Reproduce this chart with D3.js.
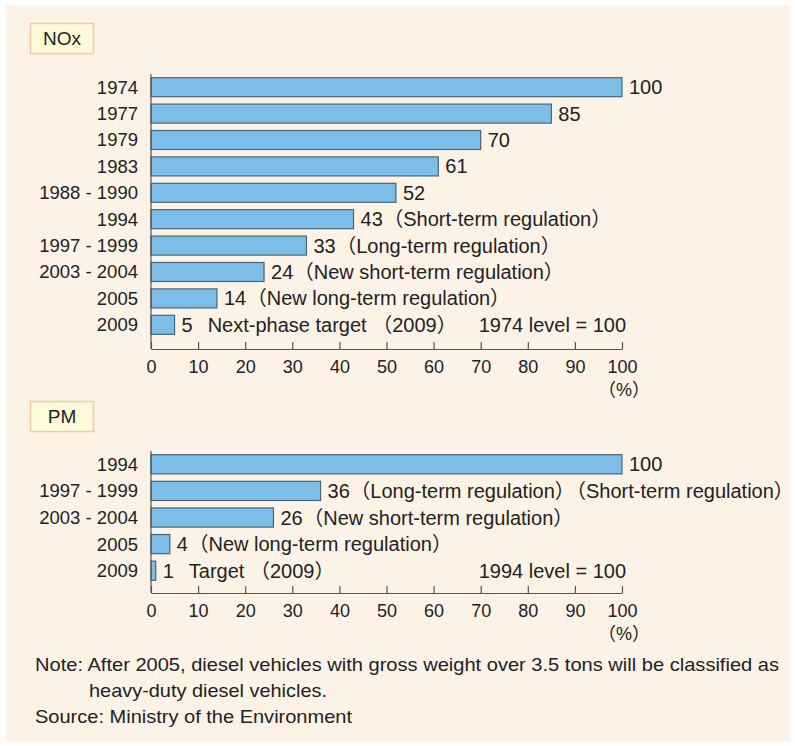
<!DOCTYPE html>
<html><head><meta charset="utf-8">
<script src="https://cdn.jsdelivr.net/npm/d3@7"></script>
<style>
html,body{margin:0;padding:0;background:#fff;}
svg text{font-family:"Liberation Sans",Arial,"Noto Sans CJK JP",sans-serif;fill:#222;}
</style></head><body>
<svg id="c" width="795" height="746"></svg>
<script>
const noxCats = ["1974","1977","1979","1983","1988 - 1990","1994","1997 - 1999","2003 - 2004","2005","2009"];
const noxVals = [100,85,70,61,52,43,33,24,14,5];
const noxNotes = ["","","","","","（Short-term regulation）","（Long-term regulation）","（New short-term regulation）","（New long-term regulation）","Next-phase target （2009）"];
const pmCats = ["1994","1997 - 1999","2003 - 2004","2005","2009"];
const pmVals = [100,36,26,4,1];
const pmNotes = ["","（Long-term regulation）","（New short-term regulation）","（New long-term regulation）","Target （2009）"];
const pmExtra = "（Short-term regulation）";
const ticks = [0,10,20,30,40,50,60,70,80,90,100];
const noxLevel = "1974 level = 100";
const pmLevel = "1994 level = 100";
const noteLines = ["Note: After 2005, diesel vehicles with gross weight over 3.5 tons will be classified as","heavy-duty diesel vehicles.","Source: Ministry of the Environment"];

const svg = d3.select("#c");
svg.append("rect").attr("x",6).attr("y",5).attr("width",784).attr("height",736).attr("fill","#fdf2e6");

const x = d3.scaleLinear().domain([0,100]).range([151,622]);
const FC = 18.5, FV = 20;

function panel(title, boxY, cats, vals, notes, y0, step, baseY, level){
  svg.append("rect").attr("x",30.5).attr("y",boxY+0.5).attr("width",63).attr("height",30)
    .attr("fill","#fffbd8").attr("stroke","#f4c8a8").attr("stroke-width",1.5);
  svg.append("text").attr("x",62).attr("y",boxY+22).attr("text-anchor","middle")
    .attr("font-size",19).text(title);
  const y = d3.scaleBand().domain(cats).range([y0, y0+cats.length*step]).paddingInner(0.28).paddingOuter(0.14);
  const g = svg.append("g");
  g.selectAll("rect.bar").data(cats).join("rect").attr("class","bar")
    .attr("x",x(0)).attr("y",d=>y(d)).attr("width",(d,i)=>x(vals[i])-x(0)).attr("height",y.bandwidth())
    .attr("fill","#7dbee9").attr("stroke","#4b6477").attr("stroke-width",1.2);
  g.selectAll("text.cat").data(cats).join("text").attr("class","cat")
    .attr("x",138).attr("y",d=>y(d)+y.bandwidth()/2).attr("dy","0.35em")
    .attr("text-anchor","end").attr("font-size",FC).text(d=>d);
  const vt = g.selectAll("text.val").data(cats).join("text").attr("class","val")
    .attr("x",(d,i)=>x(vals[i])+7).attr("y",d=>y(d)+y.bandwidth()/2).attr("dy","0.35em")
    .attr("font-size",FV).text((d,i)=>vals[i]);
  const ends = vt.nodes().map(n=>+n.getAttribute("x")+n.getComputedTextLength());
  g.selectAll("text.note").data(cats).join("text").attr("class","note")
    .attr("x",(d,i)=>ends[i]+(notes[i].startsWith("（")?0.5:15))
    .attr("y",d=>y(d)+y.bandwidth()/2).attr("dy","0.35em")
    .attr("font-size",FV).text((d,i)=>notes[i]);
  const ax = d3.axisBottom(x).tickValues(ticks).tickSizeInner(-7).tickSizeOuter(0).tickPadding(8);
  const ag = svg.append("g").attr("transform",`translate(0,${baseY})`).call(ax);
  ag.select(".domain").attr("stroke","#555").attr("stroke-width",1.2);
  ag.selectAll(".tick line").attr("stroke","#555").attr("stroke-width",1.2);
  ag.selectAll(".tick text").attr("font-size",18).attr("fill","#222").attr("dy","0.9em")
    .style("font-family",'"Liberation Sans",Arial,sans-serif');
  svg.append("line").attr("x1",x(0)).attr("x2",x(0)).attr("y1",y0).attr("y2",baseY)
    .attr("stroke","#555").attr("stroke-width",1.2);
  svg.append("text").attr("x",x(100)+2).attr("y",baseY+41).attr("dy","0.35em").attr("text-anchor","middle")
    .attr("font-size",18).text("（%）");
  svg.append("text").attr("x",x(100)+4).attr("y",y(cats[cats.length-1])+y.bandwidth()/2).attr("dy","0.35em")
    .attr("text-anchor","end").attr("font-size",FV).text(level);
  return y;
}

panel("NOx", 23, noxCats, noxVals, noxNotes, 74, 26.4, 349, noxLevel);
const yp = panel("PM", 401, pmCats, pmVals, pmNotes, 451, 26.6, 593, pmLevel);
svg.append("text").attr("x",566).attr("y",yp(pmCats[1])+yp.bandwidth()/2).attr("dy","0.35em")
  .attr("font-size",FV).text(pmExtra);

const nl = [[35,665,744],[89,691,238],[35,717,317]];
noteLines.forEach((t,i)=>{
  svg.append("text").attr("x",nl[i][0]).attr("y",nl[i][1]).attr("font-size",18.5)
    .attr("textLength",nl[i][2]).attr("lengthAdjust","spacingAndGlyphs").attr("dy","0.35em").text(t);
});
</script></body></html>
